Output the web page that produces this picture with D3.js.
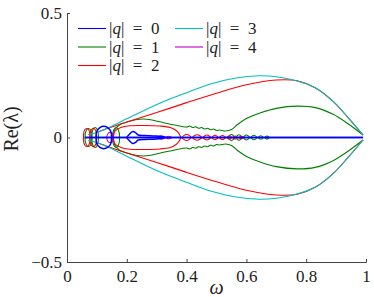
<!DOCTYPE html>
<html>
<head>
<meta charset="utf-8">
<script src="https://cdn.jsdelivr.net/npm/d3@7"></script>
<style>
  body { margin: 0; background: #fff; }
</style>
</head>
<body>
<div id="chart"></div>
<script>
// tick values
const omegaTicks = [0, 0.2, 0.4, 0.6, 0.8, 1];
const reTicks = [-0.5, 0, 0.5];

// upper halves of the branches, [omega, Re(lambda)]; the lower half is the mirror
const q0Curves = [
  [[0.06, 0], [0.99, 0]],
  [[0.097, 0], [0.1, 0.026], [0.11, 0.04], [0.123, 0.045], [0.136, 0.04], [0.146, 0.026], [0.149, 0]],
  [[0.2, 0], [0.208, 0.012], [0.22, 0.024], [0.23, 0.019], [0.238, 0.01], [0.26, 0.008], [0.3, 0.006], [0.33, 0]]
];
const q1Curves = [
  [[0.155, 0], [0.16, 0.03], [0.175, 0.05], [0.2, 0.062], [0.23, 0.071], [0.255, 0.074], [0.28, 0.071],
   [0.31, 0.063], [0.36, 0.05], [0.4, 0.042], [0.41, 0.046], [0.42, 0.04], [0.43, 0.043], [0.44, 0.037],
   [0.45, 0.04], [0.46, 0.034], [0.47, 0.037], [0.48, 0.031], [0.49, 0.034], [0.5, 0.028], [0.51, 0.03],
   [0.53, 0.026], [0.55, 0.032], [0.57, 0.052], [0.6, 0.076], [0.65, 0.1], [0.7, 0.117], [0.77, 0.126],
   [0.83, 0.12], [0.89, 0.093], [0.94, 0.055], [0.99, 0.01]],
  [[0.06, 0], [0.065, 0.03], [0.072, 0.036], [0.079, 0.03], [0.083, 0]],
  [[0.083, 0], [0.087, 0.032], [0.094, 0.04], [0.101, 0.032], [0.105, 0]],
  [[0.152, 0], [0.156, 0.03], [0.164, 0.04], [0.172, 0.03], [0.176, 0]],
  [[0.54, 0], [0.55, 0.012], [0.56, 0]], [[0.565, 0], [0.575, 0.011], [0.585, 0]],
  [[0.59, 0], [0.6, 0.01], [0.61, 0]], [[0.615, 0], [0.625, 0.009], [0.635, 0]],
  [[0.64, 0], [0.648, 0.007], [0.656, 0]], [[0.662, 0], [0.669, 0.006], [0.676, 0]]
];
const q2Curves = [
  [[0.1, 0.02], [0.14, 0.038], [0.2, 0.062], [0.3, 0.1], [0.4, 0.14], [0.5, 0.178], [0.6, 0.212],
   [0.7, 0.231], [0.77, 0.228], [0.83, 0.2], [0.89, 0.145], [0.94, 0.08], [0.99, 0.01]],
  [[0.155, 0], [0.16, 0.025], [0.18, 0.04], [0.21, 0.047], [0.26, 0.048], [0.31, 0.046],
   [0.345, 0.04], [0.365, 0.028], [0.376, 0.013], [0.38, 0]],
  [[0.055, 0], [0.059, 0.03], [0.066, 0.036], [0.073, 0.03], [0.077, 0]],
  [[0.077, 0], [0.081, 0.03], [0.088, 0.037], [0.095, 0.03], [0.099, 0]],
  [[0.385, 0], [0.4, 0.012], [0.415, 0]], [[0.42, 0], [0.435, 0.011], [0.45, 0]],
  [[0.455, 0], [0.468, 0.01], [0.48, 0]], [[0.485, 0], [0.495, 0.009], [0.505, 0]],
  [[0.51, 0], [0.52, 0.008], [0.53, 0]], [[0.535, 0], [0.543, 0.007], [0.55, 0]],
  [[0.555, 0], [0.563, 0.006], [0.57, 0]], [[0.575, 0], [0.583, 0.005], [0.59, 0]]
];
const q3Curves = [
  [[0.07, 0.012], [0.1, 0.02], [0.13, 0.035], [0.15, 0.045], [0.2, 0.075], [0.31, 0.138], [0.4, 0.18],
   [0.48, 0.215], [0.56, 0.238], [0.643, 0.248], [0.7, 0.244], [0.76, 0.23], [0.83, 0.2], [0.89, 0.145],
   [0.94, 0.08], [0.99, 0.01]]
];
const q4Curves = [
  [[0.25, 0], [0.72, 0]],
  [[0.133, 0], [0.137, 0.016], [0.144, 0.021], [0.151, 0.016], [0.155, 0]],
  [[0.3, 0], [0.315, 0.007], [0.33, 0]], [[0.33, 0], [0.34, 0.005], [0.35, 0]]
];

const series = [
  {label: "1", color: "#008000", width: 1.1, curves: q1Curves},
  {label: "2", color: "#ff0000", width: 1.1, curves: q2Curves},
  {label: "3", color: "#00bfbf", width: 1.1, curves: q3Curves},
  {label: "4", color: "#bf00bf", width: 1.1, curves: q4Curves},
  {label: "0", color: "#0000ff", width: 1.5, curves: q0Curves}
];
const legendOrder = [
  {label: "0", color: "#0000ff"}, {label: "1", color: "#008000"}, {label: "2", color: "#ff0000"},
  {label: "3", color: "#00bfbf"}, {label: "4", color: "#bf00bf"}
];

const W = 374, H = 297;
const margin = {top: 13, right: 8, bottom: 35, left: 67};
const serif = "'Liberation Serif', 'Times New Roman', serif";

const svg = d3.select("#chart").append("svg")
  .attr("width", W).attr("height", H);

const x = d3.scaleLinear().domain([0, 1]).range([margin.left, W - margin.right]);
const y = d3.scaleLinear().domain([-0.5, 0.5]).range([H - margin.bottom, margin.top]);

// axes, ticks pointing inwards
svg.append("g")
  .attr("transform", "translate(0," + (H - margin.bottom) + ")")
  .call(d3.axisBottom(x).tickValues(omegaTicks).tickSize(-3).tickPadding(8)
    .tickFormat(d => d3.format("")(d)));

svg.append("g")
  .attr("transform", "translate(" + margin.left + ",0)")
  .call(d3.axisLeft(y).tickValues(reTicks).tickSize(-3).tickPadding(5)
    .tickFormat(d => d < 0 ? "\u2212" + Math.abs(d) : d));

svg.selectAll(".domain, .tick line").attr("stroke", "#444").attr("stroke-width", 1);
svg.selectAll(".tick text")
  .attr("font-family", serif).attr("font-size", 17).attr("fill", "#222");

// curves
const open = d3.line().x(d => x(d[0])).y(d => y(d[1])).curve(d3.curveCatmullRom.alpha(0.5));
const closed = d3.line().x(d => x(d[0])).y(d => y(d[1])).curve(d3.curveCatmullRomClosed.alpha(0.5));

const plot = svg.append("g").attr("fill", "none");
series.forEach(s => {
  const g = plot.append("g").attr("stroke", s.color).attr("stroke-width", s.width);
  s.curves.forEach(c => {
    const lower = c.map(p => [p[0], -p[1]]);
    const isLoop = c.length > 2 && c[0][1] === 0 && c[c.length - 1][1] === 0;
    if (isLoop) {
      const pts = c.concat(lower.slice(1, -1).reverse());
      g.append("path").attr("d", closed(pts));
    } else {
      g.append("path").attr("d", open(c));
      g.append("path").attr("d", open(lower));
    }
  });
});

// legend
const legend = svg.append("g").attr("font-family", serif).attr("fill", "#222");
legendOrder.forEach((d, i) => {
  const col = i < 3 ? 0 : 1;
  const row = i < 3 ? i : i - 3;
  const lx = col === 0 ? 78 : 175;
  const ly = 28.5 + row * 18.5;
  legend.append("line")
    .attr("x1", lx).attr("x2", lx + 28).attr("y1", ly).attr("y2", ly)
    .attr("stroke", d.color).attr("stroke-width", 1.1);
  const t = legend.append("text")
    .attr("x", lx + 31).attr("y", ly + 5.5)
    .attr("font-size", 17);
  t.append("tspan").text("|");
  t.append("tspan").attr("font-style", "italic").text("q");
  t.append("tspan").text("|\u2002=\u2002" + d.label);
});

// axis labels
svg.append("text")
  .attr("x", x(0.5)).attr("y", 294)
  .attr("text-anchor", "middle")
  .attr("font-family", serif).attr("font-size", 20).attr("font-style", "italic").attr("fill", "#222")
  .text("\u03c9");

svg.append("text")
  .attr("transform", "translate(18,129) rotate(-90)")
  .attr("text-anchor", "middle")
  .attr("font-family", serif).attr("font-size", 20).attr("fill", "#222")
  .text("Re(\u03bb)");
</script>
</body>
</html>
